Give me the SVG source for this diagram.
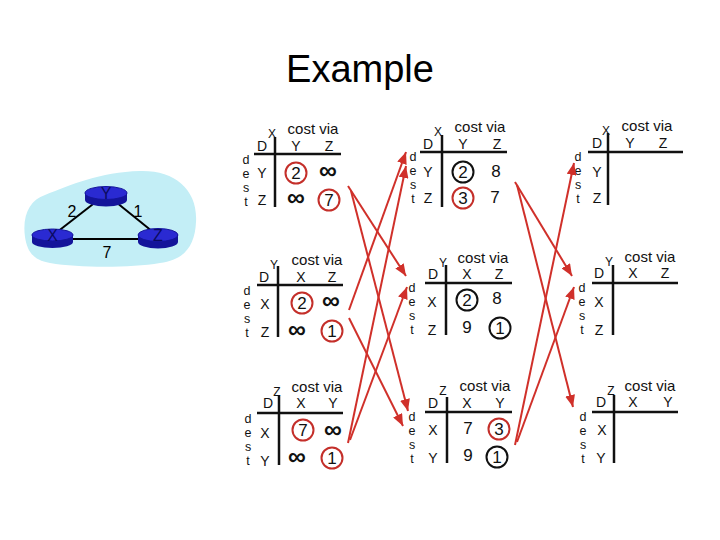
<svg xmlns="http://www.w3.org/2000/svg" width="720" height="540" viewBox="0 0 720 540">
<defs>
<style>
text{font-family:"Liberation Sans",Arial,sans-serif;fill:#111}
.title{font-size:38px;text-anchor:middle;fill:#000}
.cv{font-size:15px;text-anchor:middle}
.h{font-size:14px;text-anchor:middle}
.sup{font-size:12px;text-anchor:middle}
.d{font-size:12.5px;text-anchor:middle}
.v{font-size:17px;text-anchor:middle}
.inf{font-size:25px;font-weight:bold;text-anchor:middle}
.ln{stroke:#111;stroke-width:2.5;fill:none}
.rc{fill:none;stroke:#c42f2a;stroke-width:2}
.bc{fill:none;stroke:#111;stroke-width:2}
.arr{stroke:#d0302a;stroke-width:2;fill:none;marker-end:url(#ah)}
.edge{stroke:#000;stroke-width:2;fill:none}
.rside{fill:#14149a}
.rtop{fill:#2a2ad2;stroke:#14149a;stroke-width:1}
.rl{font-size:16px;text-anchor:middle;fill:#0a0a60}
.el{font-size:16px;text-anchor:middle;fill:#000}
</style>
<marker id="ah" markerUnits="userSpaceOnUse" markerWidth="13" markerHeight="10" refX="12" refY="5" orient="auto">
<path d="M0,0 L12,5 L0,10 z" fill="#d0302a"/>
</marker>
</defs>
<rect width="720" height="540" fill="#fff"/>
<text class="title" x="360" y="82">Example</text>

<g id="network">
<path d="M25,237 C22,215 30,200 45,195 C70,185 100,172 140,171 C175,170 198,190 196,222 C195,245 185,260 160,263 C130,268 80,268 50,263 C32,260 27,250 25,237 Z" fill="#c3eef6"/>
<line class="edge" x1="52" y1="236" x2="106" y2="194"/>
<line class="edge" x1="106" y1="194" x2="158" y2="236"/>
<line class="edge" x1="52" y1="239" x2="158" y2="239"/>
<text class="el" x="72" y="217">2</text>
<text class="el" x="138" y="217">1</text>
<text class="el" x="107" y="258">7</text>
<g id="router-y">
<path class="rside" d="M85,193 L85,200 A21,6.5 0 0 0 127,200 L127,193 Z"/>
<ellipse class="rtop" cx="106" cy="193" rx="21" ry="6.5"/>
<text class="rl" x="106" y="199">Y</text>
</g>
<g id="router-x">
<path class="rside" d="M32,235 L32,242 A20.5,6 0 0 0 73,242 L73,235 Z"/>
<ellipse class="rtop" cx="52.5" cy="235" rx="20.5" ry="6"/>
<text class="rl" x="52.5" y="241">X</text>
</g>
<g id="router-z">
<path class="rside" d="M138,235 L138,242 A20,6.5 0 0 0 178,242 L178,235 Z"/>
<ellipse class="rtop" cx="158" cy="235" rx="20" ry="6.5"/>
<text class="rl" x="158" y="241">Z</text>
</g>
</g>

<!-- Column 1 -->
<g id="x-t0" transform="translate(275,154)">
<line class="ln" x1="-21" y1="0" x2="66" y2="0"/><line class="ln" x1="0" y1="-17" x2="0" y2="53"/>
<text class="cv" x="38" y="-20.5">cost via</text>
<text class="h" x="-13" y="-3.5">D</text><text class="sup" x="-3" y="-16">X</text>
<text class="h" x="21" y="-3.5">Y</text><text class="h" x="54" y="-3.5">Z</text>
<text class="d"><tspan x="-29" y="10">d</tspan><tspan x="-29" y="24">e</tspan><tspan x="-29" y="38">s</tspan><tspan x="-29" y="52">t</tspan></text>
<text class="h" x="-13" y="24">Y</text><text class="h" x="-13" y="51">Z</text>
<circle class="rc" cx="21" cy="19" r="10.5"/><text class="v" x="21" y="25">2</text>
<text class="inf" x="53" y="25">∞</text>
<text class="inf" x="21" y="52">∞</text>
<circle class="rc" cx="54" cy="46" r="10.5"/><text class="v" x="54" y="52">7</text>
</g>
<g id="y-t0" transform="translate(278,285)">
<line class="ln" x1="-21" y1="0" x2="65" y2="0"/><line class="ln" x1="0" y1="-19" x2="0" y2="52"/>
<text class="cv" x="39" y="-20.5">cost via</text>
<text class="h" x="-14" y="-3.5">D</text><text class="sup" x="-4" y="-16">Y</text>
<text class="h" x="23" y="-3.5">X</text><text class="h" x="54" y="-3.5">Z</text>
<text class="d"><tspan x="-31" y="10">d</tspan><tspan x="-31" y="24">e</tspan><tspan x="-31" y="38">s</tspan><tspan x="-31" y="52">t</tspan></text>
<text class="h" x="-13" y="24">X</text><text class="h" x="-13" y="52">Z</text>
<circle class="rc" cx="24" cy="18" r="10.5"/><text class="v" x="24" y="24">2</text>
<text class="inf" x="53" y="24">∞</text>
<text class="inf" x="19" y="53">∞</text>
<circle class="rc" cx="54" cy="46" r="10.5"/><text class="v" x="54" y="52">1</text>
</g>
<g id="z-t0" transform="translate(279,413)">
<line class="ln" x1="-22" y1="0" x2="64" y2="0"/><line class="ln" x1="0" y1="-17" x2="0" y2="52"/>
<text class="cv" x="38" y="-21.5">cost via</text>
<text class="h" x="-11" y="-5">D</text><text class="sup" x="-2" y="-17">Z</text>
<text class="h" x="22" y="-5">X</text><text class="h" x="54" y="-5">Y</text>
<text class="d"><tspan x="-31" y="10">d</tspan><tspan x="-31" y="24">e</tspan><tspan x="-31" y="38">s</tspan><tspan x="-31" y="52">t</tspan></text>
<text class="h" x="-14" y="25">X</text><text class="h" x="-14" y="53">Y</text>
<circle class="rc" cx="24" cy="17" r="10.5"/><text class="v" x="24" y="23">7</text>
<text class="inf" x="54" y="25">∞</text>
<text class="inf" x="18" y="52">∞</text>
<circle class="rc" cx="53" cy="45" r="10.5"/><text class="v" x="53" y="51">1</text>
</g>

<!-- Column 2 -->
<g id="x-t1" transform="translate(442,152)">
<line class="ln" x1="-22" y1="0" x2="65" y2="0"/><line class="ln" x1="0" y1="-17" x2="0" y2="55"/>
<text class="cv" x="38" y="-20.5">cost via</text>
<text class="h" x="-14" y="-3.5">D</text><text class="sup" x="-4" y="-16">X</text>
<text class="h" x="21" y="-3.5">Y</text><text class="h" x="55" y="-3.5">Z</text>
<text class="d"><tspan x="-29" y="9">d</tspan><tspan x="-29" y="23">e</tspan><tspan x="-29" y="37">s</tspan><tspan x="-29" y="51">t</tspan></text>
<text class="h" x="-14" y="25">Y</text><text class="h" x="-14" y="51">Z</text>
<circle class="bc" cx="21" cy="20" r="10.5"/><text class="v" x="21" y="26">2</text>
<text class="v" x="54" y="25">8</text>
<circle class="rc" cx="21" cy="46" r="10.5"/><text class="v" x="21" y="52">3</text>
<text class="v" x="53" y="51">7</text>
</g>
<g id="y-t1" transform="translate(446,283)">
<line class="ln" x1="-21" y1="0" x2="66" y2="0"/><line class="ln" x1="0" y1="-18" x2="0" y2="52"/>
<text class="cv" x="37" y="-20.5">cost via</text>
<text class="h" x="-13" y="-4">D</text><text class="sup" x="-3" y="-16.5">Y</text>
<text class="h" x="21" y="-4">X</text><text class="h" x="53" y="-4">Z</text>
<text class="d"><tspan x="-34" y="9">d</tspan><tspan x="-34" y="23">e</tspan><tspan x="-34" y="37">s</tspan><tspan x="-34" y="51">t</tspan></text>
<text class="h" x="-14" y="24">X</text><text class="h" x="-14" y="52">Z</text>
<circle class="bc" cx="21" cy="17" r="10.5"/><text class="v" x="21" y="23">2</text>
<text class="v" x="51" y="21">8</text>
<text class="v" x="21" y="50">9</text>
<circle class="bc" cx="54" cy="45" r="10.5"/><text class="v" x="54" y="51">1</text>
</g>
<g id="z-t1" transform="translate(447,412)">
<line class="ln" x1="-22" y1="0" x2="65" y2="0"/><line class="ln" x1="0" y1="-15" x2="0" y2="51"/>
<text class="cv" x="38" y="-21">cost via</text>
<text class="h" x="-14" y="-4.5">D</text><text class="sup" x="-4" y="-17">Z</text>
<text class="h" x="20" y="-4.5">X</text><text class="h" x="53" y="-4.5">Y</text>
<text class="d"><tspan x="-35" y="9">d</tspan><tspan x="-35" y="23">e</tspan><tspan x="-35" y="37">s</tspan><tspan x="-35" y="51">t</tspan></text>
<text class="h" x="-14" y="23">X</text><text class="h" x="-14" y="51">Y</text>
<text class="v" x="21" y="22">7</text>
<circle class="rc" cx="52" cy="17" r="10.5"/><text class="v" x="52" y="23">3</text>
<text class="v" x="21" y="49">9</text>
<circle class="bc" cx="50" cy="45" r="10.5"/><text class="v" x="50" y="51">1</text>
</g>

<!-- Column 3 -->
<g id="x-t2" transform="translate(608,152)">
<line class="ln" x1="-20" y1="0" x2="75" y2="0"/><line class="ln" x1="0" y1="-19" x2="0" y2="53"/>
<text class="cv" x="39" y="-21">cost via</text>
<text class="h" x="-11" y="-4.5">D</text><text class="sup" x="-2" y="-17">X</text>
<text class="h" x="22" y="-4.5">Y</text><text class="h" x="55" y="-4.5">Z</text>
<text class="d"><tspan x="-30" y="9">d</tspan><tspan x="-30" y="23">e</tspan><tspan x="-30" y="37">s</tspan><tspan x="-30" y="51">t</tspan></text>
<text class="h" x="-11" y="25">Y</text><text class="h" x="-11" y="51">Z</text>
</g>
<g id="y-t2" transform="translate(613,283)">
<line class="ln" x1="-21" y1="0" x2="65" y2="0"/><line class="ln" x1="0" y1="-18" x2="0" y2="52"/>
<text class="cv" x="37" y="-21">cost via</text>
<text class="h" x="-14" y="-5">D</text><text class="sup" x="-4" y="-17">Y</text>
<text class="h" x="20" y="-5">X</text><text class="h" x="52" y="-5">Z</text>
<text class="d"><tspan x="-31" y="9">d</tspan><tspan x="-31" y="23">e</tspan><tspan x="-31" y="37">s</tspan><tspan x="-31" y="51">t</tspan></text>
<text class="h" x="-14" y="24">X</text><text class="h" x="-14" y="52">Z</text>
</g>
<g id="z-t2" transform="translate(614,412)">
<line class="ln" x1="-22" y1="0" x2="64" y2="0"/><line class="ln" x1="0" y1="-17" x2="0" y2="51"/>
<text class="cv" x="36" y="-21.5">cost via</text>
<text class="h" x="-13" y="-5">D</text><text class="sup" x="-3" y="-17.5">Z</text>
<text class="h" x="19" y="-5">X</text><text class="h" x="54" y="-5">Y</text>
<text class="d"><tspan x="-31" y="9">d</tspan><tspan x="-31" y="23">e</tspan><tspan x="-31" y="37">s</tspan><tspan x="-31" y="51">t</tspan></text>
<text class="h" x="-12" y="23">X</text><text class="h" x="-13" y="51">Y</text>
</g>

<g id="connectors">
<line class="arr" x1="348" y1="186" x2="406" y2="276"/>
<line class="arr" x1="351" y1="191" x2="408" y2="411"/>
<line class="arr" x1="349" y1="310" x2="406" y2="152"/>
<line class="arr" x1="349" y1="318" x2="403" y2="426"/>
<line class="arr" x1="348" y1="443" x2="406" y2="166"/>
<line class="arr" x1="350" y1="440" x2="407" y2="287"/>
<line class="arr" x1="515" y1="182" x2="572" y2="276"/>
<line class="arr" x1="517" y1="185" x2="573" y2="407"/>
<line class="arr" x1="515" y1="445" x2="574" y2="163"/>
<line class="arr" x1="517" y1="442" x2="574" y2="287"/>
</g>
</svg>
